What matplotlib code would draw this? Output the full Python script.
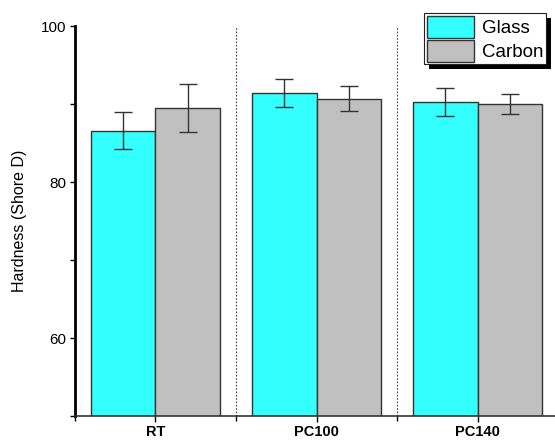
import numpy as np
import matplotlib
matplotlib.use('Agg')
import matplotlib.pyplot as plt
from matplotlib.patches import Rectangle
from matplotlib.ticker import FixedLocator

plt.rcParams['font.family'] = ['Liberation Sans', 'DejaVu Sans']

condiciones = ['RT', 'PC100', 'PC140']
dureza_glass = [86.6, 91.4, 90.2]
error_glass = [2.4, 1.8, 1.8]
dureza_carbon = [89.5, 90.7, 90.0]
error_carbon = [3.1, 1.6, 1.3]

fig = plt.figure(figsize=(5.55, 4.41), dpi=100)
ax = fig.add_axes([0.135, 0.0567, 0.865, 0.8843])

x = np.arange(len(condiciones))
ancho = 0.4
err_kw = dict(ecolor='#333333', elinewidth=1.0, capsize=6.5, capthick=1.0)
ax.bar(x - ancho / 2, dureza_glass, ancho, yerr=error_glass, color='#33FFFF',
       edgecolor='#333333', linewidth=1.0, label='Glass', error_kw=err_kw, zorder=2)
ax.bar(x + ancho / 2, dureza_carbon, ancho, yerr=error_carbon, color='#C0C0C0',
       edgecolor='#333333', linewidth=1.0, label='Carbon', error_kw=err_kw, zorder=2)

# separadores punteados entre grupos
for xs in x[:-1] + 0.5:
    ax.axvline(xs, color='#444444', linestyle=(0, (1.5, 1.5)), linewidth=0.8, zorder=1)

ax.set_xlim(-0.5, 2.48)
ax.set_ylim(50, 100)
ax.set_xticks(x)
ax.set_xticklabels(condiciones, fontweight='bold', fontsize=10.5)
ax.xaxis.set_minor_locator(FixedLocator([-0.5, 0.5, 1.5]))
ax.set_yticks([60, 80, 100])
ax.yaxis.set_minor_locator(FixedLocator([50, 70, 90]))
ax.tick_params(axis='y', labelsize=11, length=3.5, width=1.0, direction='out', pad=3)
ax.tick_params(axis='y', which='minor', length=3.5, width=1.0)
ax.tick_params(axis='x', length=4, width=1.0, pad=2.5)
ax.tick_params(axis='x', which='minor', length=3.5, width=1.0)
ax.set_ylabel('Hardness (Shore D)', fontsize=11.5, labelpad=10)

for lado in ['top', 'right']:
    ax.spines[lado].set_visible(False)
ax.spines['left'].set_linewidth(2.0)
ax.spines['bottom'].set_linewidth(1.2)
ax.spines['bottom'].set_color('#333333')

leg = ax.legend(loc='upper right', bbox_to_anchor=(0.981, 1.033), borderaxespad=0,
                fancybox=False, edgecolor='#222222', framealpha=1, fontsize=13.5,
                handlelength=2.5, handleheight=1.4, handletextpad=0.4,
                labelspacing=0.12, borderpad=0.15)
leg.get_frame().set_linewidth(0.8)
leg.set_zorder(10)

# sombra negra del recuadro de la leyenda
fig.canvas.draw()
bb = leg.get_window_extent()
sombra = Rectangle((bb.x0 + 5, bb.y0 - 5), bb.width, bb.height, transform=None,
                   facecolor='black', edgecolor='none', zorder=9, clip_on=False)
ax.add_patch(sombra)

fig.savefig('out.png', dpi=100)
